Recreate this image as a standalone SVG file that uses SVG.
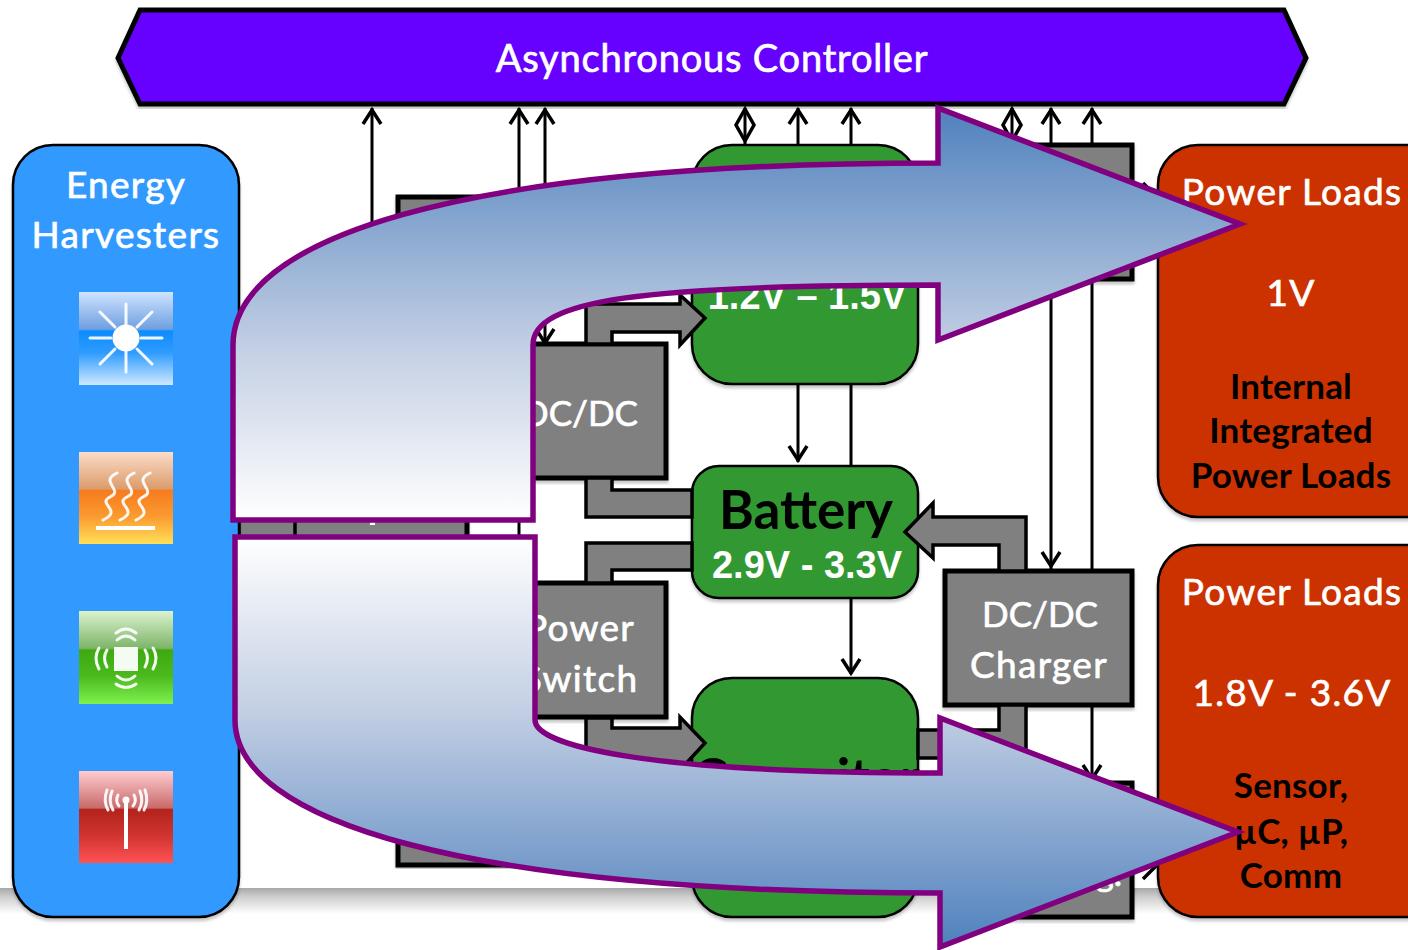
<svg xmlns="http://www.w3.org/2000/svg" width="1408" height="950" viewBox="0 0 1408 950">
<style>
.t{font-family:Lato,"Open Sans","Liberation Sans",sans-serif;text-anchor:middle}
.w{fill:#fff;stroke:#fff;stroke-width:.7}.k{fill:#000;font-weight:700}
.h{font-size:37px;letter-spacing:1.3px}
.d{font-size:35px;letter-spacing:0}
.s{font-size:35px;font-weight:700;letter-spacing:.2px}
.b{font-size:53px}
.v{font-family:"Liberation Sans",Arial,sans-serif;font-size:38px;font-weight:700;text-anchor:middle;fill:#fff}
.box{fill:#808080;stroke:#000;stroke-width:5;filter:url(#sh)}
.grn{fill:#339933;stroke:#000;stroke-width:2.5;filter:url(#sh)}
.red{fill:#cc3300;stroke:#000;stroke-width:2.5;filter:url(#sh)}
.fat{fill:#808080;stroke:#000;stroke-width:3.5;stroke-linejoin:miter}
.ln{fill:none;stroke:#000;stroke-width:3}
.ah{fill:none;stroke:#000;stroke-width:3.5;stroke-linejoin:miter}
.ic{stroke:#fff;stroke-width:3;stroke-linecap:round;fill:none;opacity:.92}
.big{stroke:#800080;stroke-width:5.5;stroke-linejoin:miter}
</style>
<defs>
<filter id="sh" x="-5%" y="-5%" width="110%" height="110%"><feDropShadow dx="0" dy="3" stdDeviation="1.5" flood-color="#000" flood-opacity=".22"/></filter>
<linearGradient id="band" x1="0" y1="0" x2="0" y2="1"><stop offset="0" stop-color="#a8a8a8"/><stop offset=".35" stop-color="#cfcfcf"/><stop offset="1" stop-color="#fff"/></linearGradient>
<linearGradient id="g1" x1="0" y1="0" x2="0" y2="1"><stop offset="0" stop-color="#4f81bd"/><stop offset=".58" stop-color="#c3cfe4"/><stop offset="1" stop-color="#fff"/></linearGradient>
<linearGradient id="g2" x1="0" y1="1" x2="0" y2="0"><stop offset="0" stop-color="#4f81bd"/><stop offset=".58" stop-color="#c3cfe4"/><stop offset="1" stop-color="#fff"/></linearGradient>
<linearGradient id="sun" x1="0" y1="0" x2="0" y2="1"><stop offset="0" stop-color="#cfe4ff"/><stop offset=".4" stop-color="#6f9fe0"/><stop offset=".42" stop-color="#0c8cff"/><stop offset=".65" stop-color="#2e9bff"/><stop offset="1" stop-color="#cfe9ff"/></linearGradient>
<linearGradient id="heat" x1="0" y1="0" x2="0" y2="1"><stop offset="0" stop-color="#fbdcc8"/><stop offset=".4" stop-color="#dc9c6c"/><stop offset=".42" stop-color="#f67c1e"/><stop offset=".7" stop-color="#fb9a30"/><stop offset="1" stop-color="#ffdf58"/></linearGradient>
<linearGradient id="vib" x1="0" y1="0" x2="0" y2="1"><stop offset="0" stop-color="#dbf2ce"/><stop offset=".4" stop-color="#7db56a"/><stop offset=".42" stop-color="#3fa912"/><stop offset=".7" stop-color="#4bb91e"/><stop offset="1" stop-color="#7ef24e"/></linearGradient>
<linearGradient id="rad" x1="0" y1="0" x2="0" y2="1"><stop offset="0" stop-color="#ffcdd0"/><stop offset=".4" stop-color="#c96a6a"/><stop offset=".42" stop-color="#b3231c"/><stop offset=".7" stop-color="#cf3430"/><stop offset="1" stop-color="#ff5254"/></linearGradient>
</defs>
<rect width="1408" height="950" fill="#fff"/>
<rect x="0" y="888" width="1408" height="26" fill="url(#band)"/>

<g id="controller">
<path d="M118 58L140 10H1284L1306 58L1284 104H140Z" fill="#6600ff" stroke="#000" stroke-width="5" filter="url(#sh)"/>
<text class="t w" x="712" y="72" font-size="38" letter-spacing=".8">Asynchronous Controller</text>
</g>

<g id="boxes-hidden">
<rect class="box" x="398" y="197" width="130" height="140"/>
<rect class="box" x="293" y="480" width="174" height="70"/>
<rect x="370" y="522" width="5" height="3" fill="#fff"/>
<rect class="box" x="398" y="790" width="130" height="75"/>
</g>

<g id="dcdc-top">
<rect class="box" x="500" y="344" width="166" height="134"/>
<text class="t w d" x="580" y="426">DC/DC</text>
</g>
<g id="power-switch">
<rect class="box" x="500" y="583" width="166" height="134"/>
<text class="t w h" x="580" y="641">Power</text>
<text class="t w h" x="580" y="692">Switch</text>
</g>
<g id="supercap-reg">
<rect class="grn" x="692" y="145" width="226" height="239" rx="40"/>
<text class="v" x="807" y="309">1.2V – 1.5V</text>
</g>
<g id="battery">
<rect class="grn" x="692" y="466" width="226" height="132" rx="27"/>
<text class="t k b" x="806" y="529">Battery</text>
<text class="v" x="807" y="578">2.9V - 3.3V</text>
</g>
<g id="capacitor">
<rect class="grn" x="692" y="678" width="226" height="239" rx="40"/>
<text class="t k b" x="806" y="797">Capacitor</text>
</g>
<g id="reg-top"><rect class="box" x="945" y="145" width="187" height="134"/></g>
<g id="dcdc-charger">
<rect class="box" x="945" y="571" width="187" height="134"/>
<text class="t w d" x="1040" y="627">DC/DC</text>
<text class="t w h" x="1039" y="678">Charger</text>
</g>
<g id="reg-bottom">
<rect class="box" x="945" y="783" width="187" height="134"/>
<text class="t w d" x="1122" y="886" style="text-anchor:end">Reg.</text>
</g>

<g id="connectors">
<path class="ln" d="M372 108V240M519 108V200M545 108V345M798 108V145M851 108V145M1051 108V145M1092 108V145M1051 280V570M1092 280V571M745 108V145M1012 108V145M798 384V462M851 384V466M851 598V674M1092 705V783M1133 197H1157M1133 865H1157M519 505V550"/>
<path class="ah" d="M363 124L372 110L381 124M510 124L519 110L528 124M536 124L545 110L554 124M789 124L798 110L807 124M842 124L851 110L860 124M1042 124L1051 110L1060 124M1083 124L1092 110L1101 124M536 329L545 343L554 329M789 446L798 460L807 446M842 659L851 673L860 659M1042 552L1051 566L1060 552M1083 765L1092 779L1101 765M1143 183L1157 197L1143 211M1143 879L1157 865L1143 851"/>
<path class="ah" d="M745 109L754 125L745 141L736 125ZM1012 109L1021 125L1012 141L1003 125Z"/>
<path class="fat" d="M586 344V304H680V295L705 318L680 345V332H612V344Z"/>
<path class="fat" d="M586 478V517H692V490H612V478Z"/>
<path class="fat" d="M586 583V543H692V570H612V583Z"/>
<path class="fat" d="M586 718V772H680V770L705 743L680 717V728H612V718Z"/>
<path class="fat" d="M1026 571V517H933V503L905 532L933 558V545H999V571Z"/>
<path class="fat" d="M1026 705V758H918V730H999V705Z"/>
<rect class="fat" x="239" y="500" width="56" height="50"/>
</g>

<g id="harvesters">
<rect x="13" y="145" width="226" height="772" rx="40" fill="#3399ff" stroke="#000" stroke-width="2.5" filter="url(#sh)"/>
<text class="t w h" x="126" y="198">Energy</text>
<text class="t w h" x="126" y="248">Harvesters</text>
<g id="icon-solar">
<rect x="79" y="292" width="94" height="93" fill="url(#sun)"/>
<path class="ic" d="M126 304V326M126 349V372M90 338H111M141 338H162M100 312L115 327M152 312L137 327M100 364L115 349M152 364L137 349"/>
<circle cx="126" cy="338" r="13.5" fill="#fff"/>
</g>
<g id="icon-thermal">
<rect x="79" y="452" width="94" height="92" fill="url(#heat)"/>
<path class="ic" d="M117 473C98 482 125 490 110 497C96 504 124 510 103 520M134 473C115 482 142 490 127 497C113 504 141 510 120 520M150 473C131 482 158 490 143 497C129 504 157 510 136 520"/>
<path d="M96 528H155" stroke="#fff" stroke-width="4" fill="none"/>
</g>
<g id="icon-vibration">
<rect x="79" y="611" width="94" height="93" fill="url(#vib)"/>
<rect x="114" y="647" width="24" height="24" fill="#f4fbf0"/>
<path class="ic" d="M117 640Q126 632 135 640M116 633Q126 625 136 633M117 676Q126 684 135 676M116 684Q126 691 136 684M107 650Q102 658 107 667M99 648Q93 658 99 669M145 650Q150 658 145 667M153 648Q159 658 153 669"/>
</g>
<g id="icon-rf">
<rect x="79" y="771" width="94" height="92" fill="url(#rad)"/>
<path d="M126 800V849" stroke="#fff" stroke-width="4" fill="none"/>
<circle cx="126" cy="800" r="3.5" fill="#fff"/>
<path class="ic" d="M118 795Q115 801 119 806M134 795Q137 801 133 806M112 791Q108 801 113 810M140 791Q144 801 139 810M107 790Q103 801 108 810M145 790Q149 801 144 810"/>
</g>
</g>

<g id="loads-1v">
<rect class="red" x="1158" y="145" width="290" height="372" rx="40"/>
<text class="t w h" x="1292" y="205">Power Loads</text>
<text class="t w h" x="1291" y="306">1V</text>
<text class="t k s" x="1291" y="399">Internal</text>
<text class="t k s" x="1291" y="443">Integrated</text>
<text class="t k s" x="1291" y="488">Power Loads</text>
</g>
<g id="loads-18v">
<rect class="red" x="1158" y="545" width="290" height="372" rx="40"/>
<text class="t w h" x="1292" y="605">Power Loads</text>
<text class="t w h" x="1292" y="706">1.8V - 3.6V</text>
<text class="t k s" x="1291" y="798">Sensor,</text>
<text class="t k s" x="1291" y="844">µC, µP,</text>
<text class="t k s" x="1291" y="888">Comm</text>
</g>

<g id="flow-top">
<path class="big" fill="url(#g1)" d="M233 520V345C233 240 450 163 938 163V108L1240 224L938 340V285C640 285 533 300 533 345V520Z"/>
</g>
<g id="flow-bottom">
<path class="big" fill="url(#g2)" d="M235 537V720C235 820 460 893 940 893V947L1238 832L940 718V773C640 773 535 745 535 720V537Z"/>
</g>
</svg>
